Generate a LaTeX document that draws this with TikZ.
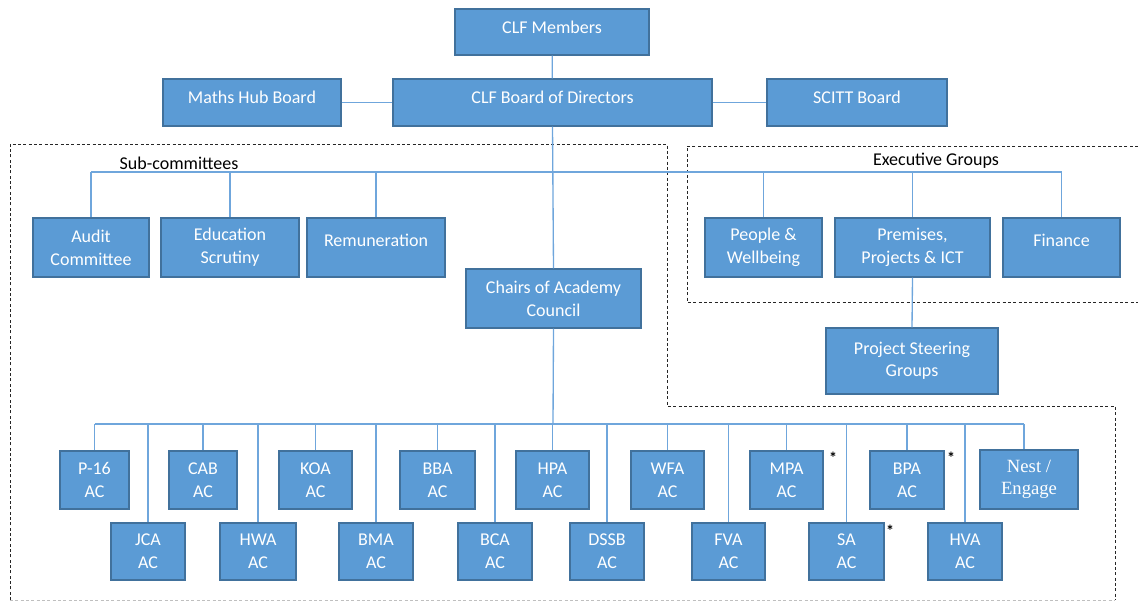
\documentclass[tikz,border=0pt]{standalone}
\usepackage{fontspec}
\setmainfont{Carlito}
\newfontfamily\nestfont{Liberation Serif}
\definecolor{boxfill}{HTML}{5B9BD5}
\definecolor{boxline}{HTML}{41719C}
\definecolor{connc}{HTML}{6FA6DC}
\newcommand\orgbox[7][]{\node[box,minimum width={(#5-#3)*0.75pt},minimum height={(#6-#4)*0.75pt},#1] (#2) at ({(#3+#5)/2},{(#4+#6)/2}) {#7};}
\begin{document}
\begin{tikzpicture}[x=0.75pt,y=-0.75pt,
  box/.style={draw=boxline,fill=boxfill,line width=0.8pt,text=white,inner sep=0pt,align=center,
    font=\fontsize{13.5}{17.5}\selectfont},
  conn/.style={draw=connc,line width=1pt},
  dashline/.style={draw=black!85,line width=0.7pt,dash pattern=on 2.2pt off 1.8pt},
  onel/.style={text depth=#1},
  grp/.style={font=\fontsize{13.5}{16}\selectfont,text=black,inner sep=0pt},
  astx/.style={font=\bfseries\fontsize{12}{12}\selectfont,text=black,inner sep=0pt}]
\useasboundingbox (0,0) rectangle (1138,603);
% dashed regions
\draw[dashline] (10,600) -- (10,144) -- (667,144) -- (667,406) -- (1115,406) -- (1115,600);
\draw[dashline,draw=black!25] (10,600) -- (1115,600);
\draw[dashline] (1138,146) -- (687,146) -- (687,302) -- (1138,302);
% boxes
\orgbox[onel=7.5pt]{mem}{455}{9}{649}{55}{CLF Members}
\orgbox[onel=7.5pt]{hub}{163}{79}{341}{126}{Maths Hub Board}
\orgbox[onel=7.5pt]{board}{393}{79}{712}{126}{CLF Board of Directors}
\orgbox[onel=7.5pt]{scitt}{767}{79}{947}{126}{SCITT Board}
\orgbox{audit}{33}{218}{149}{277}{Audit\\Committee}
\orgbox{edu}{161}{218}{299}{277}{Education\\Scrutiny}
\orgbox[onel=10.5pt]{rem}{307}{218}{445}{277}{Remuneration}
\orgbox{people}{705}{218}{822}{277}{People \&\\Wellbeing}
\orgbox{prem}{835}{218}{990}{277}{Premises,\\Projects \& ICT}
\orgbox[onel=10.5pt]{fin}{1003}{218}{1120}{277}{Finance}
\orgbox{chairs}{466}{269}{641}{328}{Chairs of Academy\\Council}
\orgbox[font=\fontsize{13.5}{16.5}\selectfont]{psg}{826}{328}{998}{394}{Project Steering\\Groups}
% academy councils, top row
\orgbox{p16}{60}{451}{129}{509}{P-16\\AC}
\orgbox{cab}{169}{451}{237}{509}{CAB\\AC}
\orgbox{koa}{279}{451}{352}{509}{KOA\\AC}
\orgbox{bba}{400}{451}{475}{509}{BBA\\AC}
\orgbox{hpa}{516}{451}{589}{509}{HPA\\AC}
\orgbox{wfa}{631}{451}{704}{509}{WFA\\AC}
\orgbox{mpa}{750}{451}{823}{509}{MPA\\AC}
\orgbox{bpa}{870}{451}{944}{509}{BPA\\AC}
\orgbox[font=\nestfont\fontsize{14}{17}\selectfont]{nest}{980}{450}{1078}{509}{Nest /\\Engage}
% bottom row
\orgbox{jca}{111}{523}{185}{580}{JCA\\AC}
\orgbox{hwa}{220}{523}{296}{580}{HWA\\AC}
\orgbox{bma}{339}{523}{413}{580}{BMA\\AC}
\orgbox{bca}{458}{523}{532}{580}{BCA\\AC}
\orgbox{dssb}{570}{523}{644}{580}{DSSB\\AC}
\orgbox{fva}{692}{523}{765}{580}{FVA\\AC}
\orgbox{sa}{809}{523}{884}{580}{SA\\AC}
\orgbox{hva}{928}{523}{1002}{580}{HVA\\AC}
% asterisks
\node[astx] (amp) at (833,458) {*};
\node[astx] (abp) at (951,458) {*};
\node[astx] (asa) at (890,531) {*};
% group labels
\node[grp] (subl) at (179,163) {Sub-committees};
\node[grp] (exel) at (936,161) {Executive Groups};
% connectors
\coordinate (sbus) at (553,172);
\coordinate (abus) at (553,424);
\draw[conn] (mem) -- (board);
\draw[conn] (hub) -- (board);
\draw[conn] (board) -- (scitt);
\draw[conn] (board.south) -- (chairs.north);
\draw[conn] (sbus -| audit.north) -- (sbus -| fin.north);
\foreach \n in {audit,edu,rem,people,prem,fin}{\draw[conn] (sbus -| \n.north) -- (\n.north);}
\draw[conn] (prem.south) -- (psg.north);
\draw[conn] (chairs.south) -- (abus);
\coordinate (nestc) at ([xshift=-3.75pt]nest.north);
\draw[conn] (abus -| p16.north) -- (abus -| nestc);
\foreach \n in {p16,cab,koa,bba,hpa,wfa,mpa,bpa,jca,hwa,bma,bca,dssb,fva,sa,hva}{\draw[conn] (abus -| \n.north) -- (\n.north);}
\draw[conn] (abus -| nestc) -- (nestc);
\end{tikzpicture}
\end{document}
